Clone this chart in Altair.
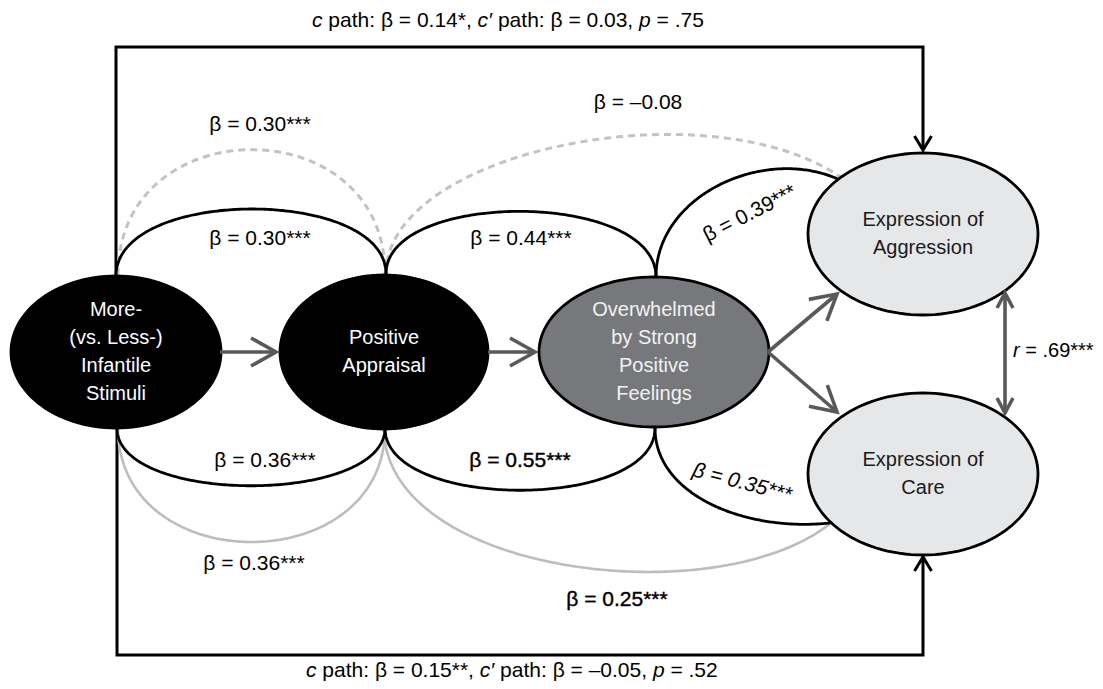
import altair as alt
import numpy as np
import pandas as pd

W, H = 1087, 673
X0, Y0 = 8, 8
FONT = "Liberation Sans"

# ---------------- nodes ----------------
node_id = ["stim", "appr", "over", "aggr", "care"]
node_cx = [116, 384, 654, 923, 923]
node_cy = [352, 352, 352, 234, 474]
node_rx = [105, 104, 115, 115, 115]
node_ry = [76, 77, 75, 81, 81]
node_fill = ["#000000", "#000000", "#77787b", "#e6e7e8", "#e6e7e8"]
node_text_color = ["#ffffff", "#ffffff", "#f2f2f2", "#1a1a1a", "#1a1a1a"]
node_lines = [
    ["More-", "(vs. Less-)", "Infantile", "Stimuli"],
    ["Positive", "Appraisal"],
    ["Overwhelmed", "by Strong", "Positive", "Feelings"],
    ["Expression of", "Aggression"],
    ["Expression of", "Care"],
]
node_line_height = 28

# ---------------- curved paths (cubic Bezier control points) ----------------
arc_kind = ["black", "black", "black", "black", "black", "black",
            "gray", "gray", "dash", "dash"]
arc_x = [
    [116, 116, 386, 386],
    [386, 386, 656, 656],
    [656, 656, 765, 840],
    [117, 117, 385, 385],
    [385, 385, 655, 655],
    [655, 655, 745, 830],
    [118, 118, 385, 385],
    [384, 384, 720, 832],
    [118, 118, 385, 385],
    [386, 386, 710, 842],
]
arc_y = [
    [276, 187, 187, 274],
    [274, 190, 190, 277],
    [277, 195, 145, 180],
    [428, 505, 505, 428],
    [428, 511, 511, 428],
    [428, 495, 532, 523],
    [428, 580, 580, 428],
    [428, 575, 615, 522],
    [275, 108, 108, 274],
    [274, 150, 86, 178],
]

# ---------------- c / c' path frame lines ----------------
frame_x = [[116, 116, 923, 923], [117, 117, 923, 923]]
frame_y = [[352, 47, 47, 150], [352, 655, 655, 557]]

# ---------------- straight arrows ----------------
arrow_x0 = [220, 488, 768, 768]
arrow_y0 = [352, 352, 352, 352]
arrow_x1 = [276, 535, 837, 837]
arrow_y1 = [352, 352, 294, 412]
corr_x = [1005, 1005]
corr_y = [293, 413]

# ---------------- labels ----------------
label_text = ["β = 0.30***", "β = 0.30***", "β = 0.44***", "β = –0.08",
              "β = 0.39***", "β = 0.36***", "β = 0.55***", "β = 0.35***",
              "β = 0.36***", "β = 0.25***"]
label_x = [260, 260, 521, 638, 750, 265, 520, 742, 254, 617]
label_y = [125, 239, 239, 103, 214, 461, 461, 483, 564, 600]
label_angle = [0, 0, 0, 0, 333, 0, 0, 15, 0, 0]
label_style = ["reg", "reg", "reg", "reg", "reg", "reg", "bold", "ital", "reg", "bold"]

top_segments = [("c", "ital"), (" path: β = 0.14*, ", "reg"), ("c′", "ital"),
                (" path: β = 0.03, ", "reg"), ("p", "ital"), (" = .75", "reg")]
bottom_segments = [("c", "ital"), (" path: β = 0.15**, ", "reg"), ("c′", "ital"),
                   (" path: β = –0.05, ", "reg"), ("p", "ital"), (" = .52", "reg")]
top_start, top_base = 312, 27
bottom_start, bottom_base = 306, 677
r_segments = [("r", "ital"), (" = .69***", "reg")]
r_start, r_mid, r_size = 1013, 351, 20

# ---------------- geometry helpers ----------------
def bezier(px, py, n=160):
    t = np.linspace(0, 1, n)
    b = [(1 - t) ** 3, 3 * (1 - t) ** 2 * t, 3 * (1 - t) * t ** 2, t ** 3]
    x = sum(bi * p for bi, p in zip(b, px))
    y = sum(bi * p for bi, p in zip(b, py))
    return x, y


def chevron(tx, ty, fx, fy, L, Wd):
    d = np.array([tx - fx, ty - fy], dtype=float)
    d /= np.hypot(*d)
    nrm = np.array([-d[1], d[0]])
    base = np.array([tx, ty]) - L * d
    a = base + Wd * nrm
    b = base - Wd * nrm
    return [a[0], tx, b[0]], [a[1], ty, b[1]]


def rows(gid, xs, ys):
    return [{"gid": gid, "ord": i, "x": float(a), "y": float(b)}
            for i, (a, b) in enumerate(zip(xs, ys))]


def ellipse_shape(rx, ry, n=120):
    # unit-box SVG path (x in [-1, 1]) for a custom point symbol
    t = np.linspace(0, 2 * np.pi, n, endpoint=False)
    k = ry / rx
    pts = [f"{np.cos(a):.4f},{k * np.sin(a):.4f}" for a in t]
    return "M" + "L".join(pts) + "Z"


arc_rows = {"black": [], "gray": [], "dash": []}
for i, (k, px, py) in enumerate(zip(arc_kind, arc_x, arc_y)):
    bx, by = bezier(px, py)
    arc_rows[k] += rows(f"arc{i}", bx, by)

frame_rows = []
for i, (fx, fy) in enumerate(zip(frame_x, frame_y)):
    frame_rows += rows(f"frame{i}", fx, fy)
    cx, cy = chevron(fx[-1], fy[-1], fx[-2], fy[-2], 14, 8.5)
    frame_rows += rows(f"framehead{i}", cx, cy)

arrow_rows = []
for i in range(len(arrow_x0)):
    arrow_rows += rows(f"ar{i}", [arrow_x0[i], arrow_x1[i]], [arrow_y0[i], arrow_y1[i]])
    cx, cy = chevron(arrow_x1[i], arrow_y1[i], arrow_x0[i], arrow_y0[i], 25, 14)
    arrow_rows += rows(f"arh{i}", cx, cy)
arrow_rows += rows("corr", corr_x, corr_y)
cx, cy = chevron(corr_x[0], corr_y[0], corr_x[1], corr_y[1], 15, 8)
arrow_rows += rows("corrh0", cx, cy)
cx, cy = chevron(corr_x[1], corr_y[1], corr_x[0], corr_y[0], 15, 8)
arrow_rows += rows("corrh1", cx, cy)

node_text_rows = []
for nid, cx_, cy_, lines, col in zip(node_id, node_cx, node_cy, node_lines, node_text_color):
    n = len(lines)
    for i, ln in enumerate(lines):
        node_text_rows.append({"text": ln, "x": cx_,
                               "y": cy_ + (i - (n - 1) / 2) * node_line_height,
                               "color": col})

# text width (Arial / Liberation Sans metrics, per em)
CW = {" ": .278, "c": .5, "p": .556, "a": .556, "t": .278, "h": .556, ":": .278,
      "β": .575, "=": .584, ".": .278, "*": .389, ",": .278, "′": .19, "–": .556,
      "r": .333}
for d in "0123456789":
    CW[d] = .556


def layout(segs, x_start, size):
    out = []
    x = x_start
    for txt, sty in segs:
        lead = len(txt) - len(txt.lstrip(" "))
        xs = x + lead * CW[" "] * size
        out.append((txt.strip(" "), xs, sty))
        x += sum(CW.get(ch, .556) for ch in txt) * size
    return out


seg_rows = []
for segs, xs, yb in [(top_segments, top_start, top_base), (bottom_segments, bottom_start, bottom_base)]:
    for txt, x, sty in layout(segs, xs, 21):
        seg_rows.append({"text": txt, "x": x, "y": yb, "style": sty})
r_rows = []
for txt, x, sty in layout(r_segments, r_start, r_size):
    r_rows.append({"text": txt, "x": x, "y": r_mid, "style": sty})

lab_df = pd.DataFrame({"text": label_text, "x": label_x, "y": label_y,
                       "angle": label_angle, "style": label_style})

# ---------------- chart ----------------
xs = alt.Scale(domain=[X0, X0 + W], nice=False, zero=False)
ys = alt.Scale(domain=[Y0, Y0 + H], nice=False, zero=False, reverse=True)


def X():
    return alt.X("x:Q", scale=xs, axis=None)


def Y():
    return alt.Y("y:Q", scale=ys, axis=None)


def line_layer(data, color, width, dash=None, cap="butt"):
    kw = dict(color=color, strokeWidth=width, strokeCap=cap, strokeJoin="miter")
    if dash:
        kw["strokeDash"] = dash
    return alt.Chart(pd.DataFrame(data)).mark_line(**kw).encode(
        x=X(), y=Y(), detail="gid:N", order="ord:Q")


frame_layer = line_layer(frame_rows, "#000000", 3)
gray_layer = line_layer(arc_rows["gray"], "#bcbdc0", 2.6)
dash_layer = line_layer(arc_rows["dash"], "#c2c3c5", 3, dash=[7, 5])
black_layer = line_layer(arc_rows["black"], "#000000", 2.8)

ell_layers = []
for nid, cx_, cy_, rx, ry, fill in zip(node_id, node_cx, node_cy, node_rx, node_ry, node_fill):
    df = pd.DataFrame({"x": [cx_], "y": [cy_], "node": [nid]})
    ell_layers.append(
        alt.Chart(df).mark_point(
            shape=ellipse_shape(rx, ry), size=(2 * rx) ** 2, filled=True,
            fill=fill, stroke="#000000", strokeWidth=2.8, opacity=1,
            fillOpacity=1, strokeOpacity=1).encode(x=X(), y=Y())
    )

arrow_layer = line_layer(arrow_rows, "#58595b", 3.6)

node_text_layer = alt.Chart(pd.DataFrame(node_text_rows)).mark_text(
    font=FONT, fontSize=20, align="center", baseline="middle").encode(
    x=X(), y=Y(), text="text:N", color=alt.Color("color:N", scale=None))


def lab_layer(sty, style="normal", stroke_w=0):
    kw = dict(font=FONT, fontSize=21, align="center", baseline="middle",
              fontStyle=style, fill="#000000")
    if stroke_w:
        kw.update(stroke="#000000", strokeWidth=stroke_w)
    return alt.Chart(lab_df[lab_df["style"] == sty]).mark_text(**kw).encode(
        x=X(), y=Y(), text="text:N", angle=alt.Angle("angle:Q", scale=None))


seg_df = pd.DataFrame(seg_rows)
r_df = pd.DataFrame(r_rows)


def seg_layer(df, sty, baseline, size=21):
    return alt.Chart(df[df["style"] == sty]).mark_text(
        font=FONT, fontSize=size, align="left", baseline=baseline,
        fontStyle="italic" if sty == "ital" else "normal", color="#000000").encode(
        x=X(), y=Y(), text="text:N")


chart = alt.layer(
    frame_layer, gray_layer, dash_layer, black_layer, *ell_layers,
    arrow_layer, node_text_layer,
    lab_layer("reg"), lab_layer("bold", stroke_w=0.4), lab_layer("ital", style="italic"),
    seg_layer(seg_df, "reg", "alphabetic"), seg_layer(seg_df, "ital", "alphabetic"),
    seg_layer(r_df, "reg", "middle", r_size), seg_layer(r_df, "ital", "middle", r_size),
).properties(
    width=W, height=H, padding=0, autosize=alt.AutoSizeParams(type="none"),
    background="#ffffff"
).configure_view(stroke=None)

chart.save("out.html", embed_options={"renderer": "svg", "actions": False})
